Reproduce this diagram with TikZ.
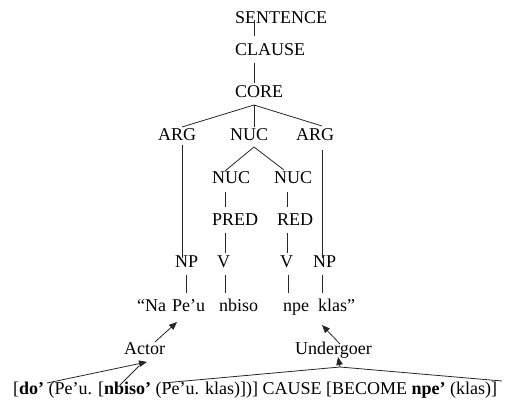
\documentclass[tikz,border=0pt]{standalone}
\usepackage{fontspec}
\setmainfont{Liberation Serif}
\usetikzlibrary{arrows.meta}
\begin{document}
\begin{tikzpicture}[x=1pt,y=-1pt,
  lbl/.style={anchor=base west,inner sep=0pt,font=\fontsize{18}{20}\selectfont},
  edge/.style={line width=0.8pt,draw=black!85},
  arr/.style={line width=0.8pt,draw=black!85,-{Triangle[length=8pt,width=6.5pt]}}]
\useasboundingbox (0,0) rectangle (505,402);
% labels
\node[lbl] (sentence) at (235,23) {SENTENCE};
\node[lbl] (clause) at (235,55) {CLAUSE};
\node[lbl] (core) at (235,97) {CORE};
\node[lbl] (argL) at (158,140) {ARG};
\node[lbl] (nuc) at (230,140) {NUC};
\node[lbl] (argR) at (296,140) {ARG};
\node[lbl] (nucL) at (212,183) {NUC};
\node[lbl] (nucR) at (274,183) {NUC};
\node[lbl] (pred) at (212,225) {PRED};
\node[lbl] (red) at (277,225) {RED};
\node[lbl] (npL) at (175,267) {NP};
\node[lbl] (vL) at (217,267) {V};
\node[lbl] (vR) at (280,267) {V};
\node[lbl] (npR) at (313,267) {NP};
\node[lbl] (w1) at (137,311) {“Na};
\node[lbl] (w2) at (172,311) {Pe’u};
\node[lbl] (w3) at (219,311) {nbiso};
\node[lbl] (w4) at (283,311) {npe};
\node[lbl] (w5) at (318,311) {klas”};
\node[lbl] (actor) at (124,354) {Actor};
\node[lbl] (undergoer) at (295,354) {Undergoer};
\node[lbl] (lsr) at (13,394) {[\textbf{do’} (Pe’u. [\textbf{nbiso’} (Pe’u. klas)])] CAUSE [BECOME \textbf{npe’} (klas)]};
% tree coordinates
\coordinate (sB) at (254,20);  \coordinate (cT) at (254,36);
\coordinate (cB) at (254,63);  \coordinate (coT) at (254,83);
\coordinate (coB) at (254,105);
\coordinate (aLT) at (182,127); \coordinate (nT) at (254,127); \coordinate (aRT) at (322,126);
\coordinate (aLB) at (182,145); \coordinate (npLT) at (182,258);
\coordinate (aRB) at (322,150); \coordinate (npRT) at (322,258);
\coordinate (nB) at (254,147);
\coordinate (nLT) at (225,171); \coordinate (nRT) at (284,170);
\coordinate (nLB) at (225,192); \coordinate (pT) at (225,207);
\coordinate (nRB) at (287,192); \coordinate (rT) at (287,207);
\coordinate (pB) at (225,233); \coordinate (vLT) at (225,253);
\coordinate (rB) at (287,233); \coordinate (vRT) at (287,253);
\coordinate (npLB) at (186,275); \coordinate (w2T) at (186,293);
\coordinate (vLB) at (225,275);  \coordinate (w3T) at (225,293);
\coordinate (vRB) at (288,275);  \coordinate (w4T) at (288,293);
\coordinate (npRB) at (322,275); \coordinate (w5T) at (322,293);
% tree lines
\draw[edge] (sB) -- (cT);
\draw[edge] (cB) -- (coT);
\draw[edge] (coB) -- (aLT);
\draw[edge] (coB) -- (nT);
\draw[edge] (coB) -- (aRT);
\draw[edge] (aLB) -- (npLT);
\draw[edge] (aRB) -- (npRT);
\draw[edge] (nB) -- (nLT);
\draw[edge] (nB) -- (nRT);
\draw[edge] (nLB) -- (pT);
\draw[edge] (nRB) -- (rT);
\draw[edge] (pB) -- (vLT);
\draw[edge] (rB) -- (vRT);
\draw[edge] (npLB) -- (w2T);
\draw[edge] (vLB) -- (w3T);
\draw[edge] (vRB) -- (w4T);
\draw[edge] (npRB) -- (w5T);
% linking arrows
\coordinate (actTail) at (155,342); \coordinate (peuTip) at (177,322);
\coordinate (undTail) at (340,344); \coordinate (klasTip) at (322,325);
\draw[arr] (actTail) -- (peuTip);
\draw[arr] (undTail) -- (klasTip);
\coordinate (doS) at (47,383); \coordinate (actTip) at (147,362);
\coordinate (nbS) at (120,385); \coordinate (nbE) at (139,366);
\draw[arr] (doS) -- (actTip);
\draw[edge] (nbS) -- (nbE);
\coordinate (uJ) at (340,367); \coordinate (uTip) at (338,357);
\coordinate (npeS) at (163,383); \coordinate (klS) at (502,381);
\draw[edge] (npeS) -- (uJ) -- (klS);
\draw[arr] (uJ) -- (uTip);
\end{tikzpicture}
\end{document}
